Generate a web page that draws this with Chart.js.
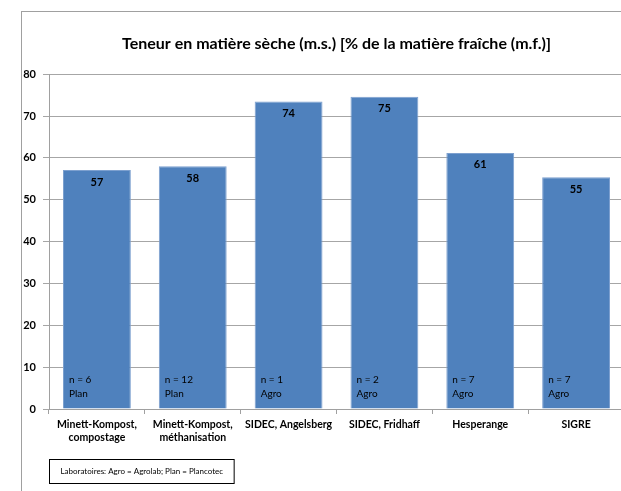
<!DOCTYPE html>
<html lang="fr">
<head>
<meta charset="UTF-8">
<title>Teneur en matière sèche</title>
<script src="https://cdn.jsdelivr.net/npm/chart.js@4.4.1/dist/chart.umd.min.js"></script>
<style>
  html, body { margin: 0; padding: 0; background: #fff; overflow: hidden; width: 621px; height: 491px; }
  .frame { position: absolute; left: 21px; top: 11px; width: 800px; height: 800px; border-left: 1px solid #a0a0a0; border-top: 1px solid #a0a0a0; }
  .chart { position: absolute; left: 0; top: 0; width: 680px; height: 491px; }
</style>
</head>
<body>
<div class="frame"></div>
<div class="chart"><canvas id="myChart"></canvas></div>

<script>
// data
const categories = [
  ['Minett-Kompost,', 'compostage'],
  ['Minett-Kompost,', 'méthanisation'],
  'SIDEC, Angelsberg',
  'SIDEC, Fridhaff',
  'Hesperange',
  'SIGRE'
];
const values = [57.1, 58.0, 73.5, 74.6, 61.2, 55.4];
const valueLabels = ['57', '58', '74', '75', '61', '55'];
const sampleCounts = ['n = 6', 'n = 12', 'n = 1', 'n = 2', 'n = 7', 'n = 7'];
const labs = ['Plan', 'Plan', 'Agro', 'Agro', 'Agro', 'Agro'];
const yTicks = [0, 10, 20, 30, 40, 50, 60, 70, 80];
const note = 'Laboratoires: Agro = Agrolab; Plan = Plancotec';

const FONT = 'Lato, "Liberation Sans", sans-serif';

// text inside the bars + the little note box under the axis
const barText = {
  id: 'barText',
  afterDatasetsDraw(chart) {
    const ctx = chart.ctx;
    const bars = chart.getDatasetMeta(0).data;
    ctx.save();
    ctx.fillStyle = '#000';
    bars.forEach(function (bar, i) {
      ctx.font = 'bold 11px ' + FONT;
      ctx.textAlign = 'center';
      ctx.textBaseline = 'middle';
      ctx.fillText(valueLabels[i], bar.x, bar.y + 12);
      ctx.font = '10px ' + FONT;
      ctx.textAlign = 'left';
      const left = bar.x - bar.width / 2 + 6;
      ctx.fillText(sampleCounts[i], left, bar.base - 29);
      ctx.fillText(labs[i], left, bar.base - 15);
    });
    // note box
    const a = chart.chartArea;
    ctx.font = '8px ' + FONT;
    const w = ctx.measureText(note).width;
    ctx.strokeStyle = '#000';
    ctx.lineWidth = 1;
    ctx.strokeRect(a.left + 0.5, a.bottom + 50.5, w + 22, 24);
    ctx.textAlign = 'left';
    ctx.textBaseline = 'middle';
    ctx.fillText(note, a.left + 11.5, a.bottom + 62.5);
    ctx.restore();
  }
};

var ctx = document.getElementById('myChart').getContext('2d');
var chart = new Chart(ctx, {
  type: 'bar',
  data: {
    labels: categories,
    datasets: [{
      data: values,
      backgroundColor: '#4f81bd',
      borderColor: '#7da0cf',
      borderWidth: 1,
      barPercentage: 0.8,
      categoryPercentage: 0.885
    }]
  },
  options: {
    responsive: true,
    maintainAspectRatio: false,
    animation: false,
    layout: { padding: { left: 0, right: 56, top: 34, bottom: 42 } },
    plugins: {
      legend: { display: false },
      tooltip: { enabled: false },
      title: {
        display: true,
        fullSize: false,
        text: 'Teneur en matière sèche (m.s.) [% de la matière fraîche (m.f.)]',
        color: '#000',
        font: { family: FONT, size: 16, weight: 'bold', lineHeight: 1.2 },
        padding: { top: 0, bottom: 21 }
      }
    },
    scales: {
      x: {
        offset: true,
        grid: { display: true, drawOnChartArea: false, offset: true, color: '#a0a0a0', tickLength: 5 },
        border: { color: '#a0a0a0' },
        ticks: {
          color: '#000',
          padding: 4,
          maxRotation: 0,
          autoSkip: false,
          font: { family: FONT, size: 10.5, weight: 'bold', lineHeight: 1.25 }
        },
        afterFit(scale) { scale.height = 40; }
      },
      y: {
        min: 0,
        max: 80,
        afterBuildTicks(scale) { scale.ticks = yTicks.map(v => ({ value: v })); },
        grid: { color: '#a6a6a6', tickLength: 6 },
        border: { color: '#a0a0a0' },
        ticks: {
          color: '#000',
          padding: 7,
          font: { family: FONT, size: 11, weight: 'bold' }
        },
        afterFit(scale) { scale.width = 49; }
      }
    }
  },
  plugins: [barText]
});
</script>
</body>
</html>
